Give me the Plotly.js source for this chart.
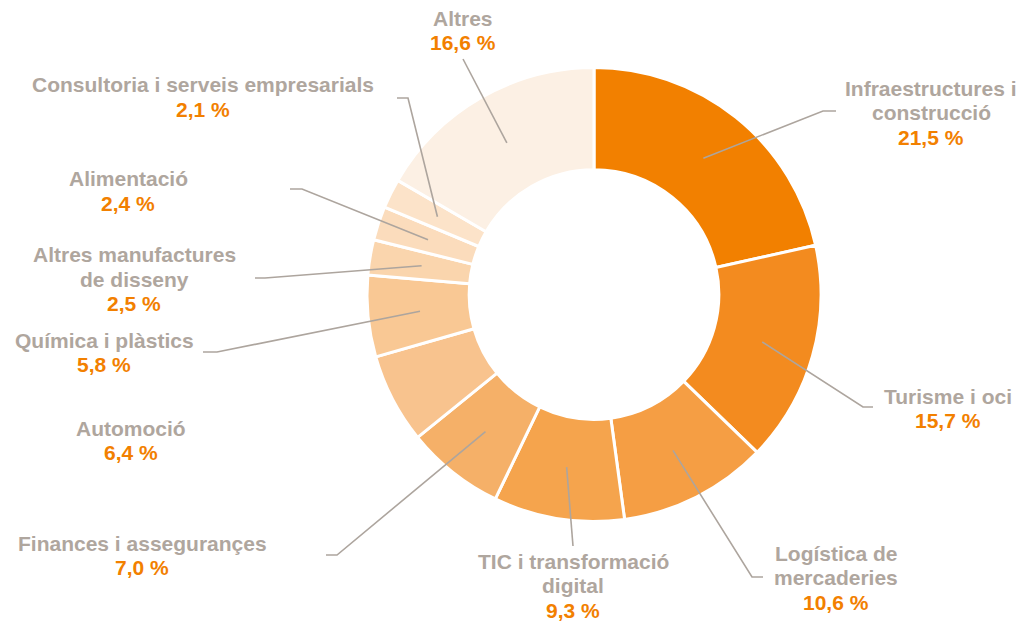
<!DOCTYPE html>
<html>
<head>
<meta charset="utf-8">
<script src="https://cdn.plot.ly/plotly-3.0.1.min.js"></script>
<style>html,body{margin:0;padding:0;background:#fff;}#chart{width:1023px;height:623px;}</style>
</head>
<body>
<div id="chart"></div>
<script>
// ---- data ----
const categories = [
  "Infraestructures i\nconstrucció",
  "Turisme i oci",
  "Logística de\nmercaderies",
  "TIC i transformació\ndigital",
  "Finances i assegurançes",
  "Automoció",
  "Química i plàstics",
  "Altres manufactures\nde disseny",
  "Alimentació",
  "Consultoria i serveis empresarials",
  "Altres"
];
const shares = [21.5, 15.7, 10.6, 9.3, 7.0, 6.4, 5.8, 2.5, 2.4, 2.1, 16.6];
const shareLabels = ["21,5 %", "15,7 %", "10,6 %", "9,3 %", "7,0 %", "6,4 %", "5,8 %", "2,5 %", "2,4 %", "2,1 %", "16,6 %"];

// ---- styles / layout positions ----
const sliceColors = ["#F28000", "#F38B1F", "#F59E44", "#F5A44D", "#F5B068", "#F8C38E", "#F9C894", "#FAD5AD", "#FBDCBC", "#FCE3C9", "#FCF0E4"];
const W = 1023, H = 623;
const PIE = {cx: 594, cy: 294.5, r: 227};
const HOLE = 0.55;
const GRAY = "#AFA69E", ORANGE = "#F28000", LINE = "#ADA59E";
const FS = 21, LH = 24.5;
// label block: [center x, center y of first line] in pixels
const labelPos = [
  [931, 88], [948, 396], [836, 553], [573, 561], [142, 543], [131, 428],
  [104, 340], [134, 255], [128, 179], [203, 85], [463, 18]
];
// leader line points after the start point inside the slice (pixels)
const leaderPts = [
  [[823, 111], [836, 111]],
  [[863, 407], [873, 407]],
  [[752, 577], [763, 577]],
  [[573, 546]],
  [[337, 555], [326, 555]],
  null,
  [[217, 352], [203, 352]],
  [[265, 278], [255, 278]],
  [[302, 189], [290, 189]],
  [[408, 98], [397, 98]],
  [[463, 59]]
];

const px = x => x / W;
const py = y => 1 - y / H;

const total = shares.reduce((a, b) => a + b, 0);
const shapes = [];
let cum = 0;
shares.forEach((v, i) => {
  const mid = (cum + v / 2) / total * 2 * Math.PI;
  cum += v;
  if (!leaderPts[i]) return;
  const rr = PIE.r * 0.77;
  const sx = PIE.cx + rr * Math.sin(mid);
  const sy = PIE.cy - rr * Math.cos(mid);
  let path = `M ${px(sx)} ${py(sy)}`;
  leaderPts[i].forEach(p => { path += ` L ${px(p[0])} ${py(p[1])}`; });
  shapes.push({type: "path", xref: "paper", yref: "paper", path: path,
    line: {color: LINE, width: 1.6}});
});

const annotations = [];
categories.forEach((c, i) => {
  const lines = c.split("\n");
  const [lx, ly] = labelPos[i];
  lines.forEach((t, k) => {
    annotations.push({xref: "paper", yref: "paper", x: px(lx), y: py(ly + k * LH),
      xanchor: "center", yanchor: "middle", showarrow: false, text: "<b>" + t + "</b>",
      font: {family: "Liberation Sans, Arial, sans-serif", size: FS, color: GRAY}});
  });
  annotations.push({xref: "paper", yref: "paper", x: px(lx), y: py(ly + lines.length * LH),
    xanchor: "center", yanchor: "middle", showarrow: false, text: "<b>" + shareLabels[i] + "</b>",
    font: {family: "Liberation Sans, Arial, sans-serif", size: FS, color: ORANGE}});
});

const trace = {
  type: "pie",
  labels: categories,
  values: shares,
  sort: false,
  direction: "clockwise",
  rotation: 0,
  hole: HOLE,
  textinfo: "none",
  hoverinfo: "label+percent",
  marker: {colors: sliceColors, line: {color: "#FFFFFF", width: 3}},
  domain: {x: [px(PIE.cx - PIE.r), px(PIE.cx + PIE.r)], y: [py(PIE.cy + PIE.r), py(PIE.cy - PIE.r)]}
};

const layout = {
  width: W, height: H,
  margin: {l: 0, r: 0, t: 0, b: 0},
  showlegend: false,
  paper_bgcolor: "#FFFFFF",
  shapes: shapes,
  annotations: annotations
};

Plotly.newPlot("chart", [trace], layout, {displayModeBar: false, staticPlot: true});
</script>
</body>
</html>
